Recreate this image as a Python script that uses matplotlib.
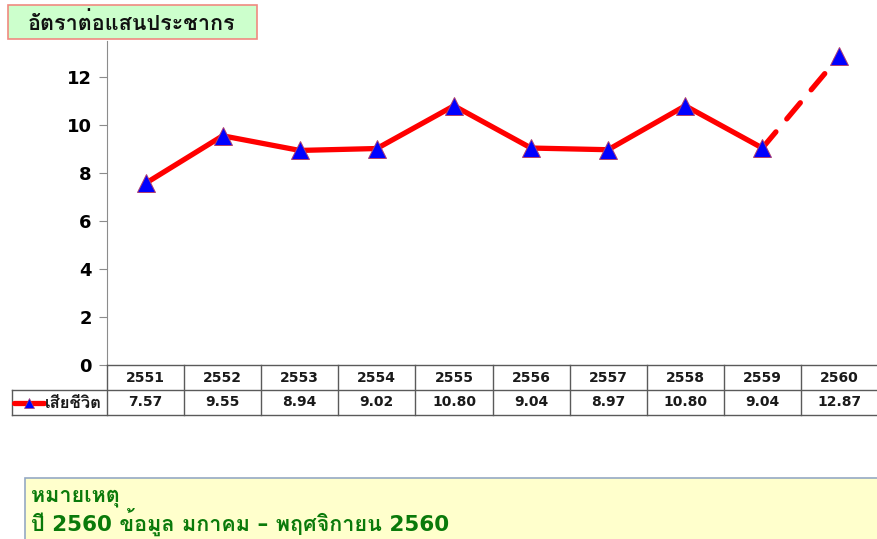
import matplotlib
matplotlib.use('Agg')
import matplotlib.pyplot as plt
from matplotlib import font_manager as fm, ft2font
from matplotlib.patches import Rectangle
import numpy as np

# data
years = ['2551', '2552', '2553', '2554', '2555', '2556', '2557', '2558', '2559', '2560']
rates = [7.57, 9.55, 8.94, 9.02, 10.80, 9.04, 8.97, 10.80, 9.04, 12.87]
series_name = 'เสียชีวิต'
y_title = 'อัตราต่อแสนประชากร'
note_lines = ['หมายเหตุ', 'ปี 2560 ข้อมูล มกาคม – พฤศจิกายน 2560']
yticks = [0, 2, 4, 6, 8, 10, 12]

# pick an installed font that has Thai glyphs (used as fallback after DejaVu)
thai = None
for f in fm.fontManager.ttflist:
    try:
        if ft2font.FT2Font(f.fname).get_char_index(ord('ก')):
            thai = f.name
            if f.weight in ('bold', 700):
                break
    except Exception:
        pass
plt.rcParams['font.family'] = ['DejaVu Sans'] + ([thai] if thai else [])

RED = '#ff0000'; BLUE = '#0000ff'; GRID = '#5a5a5a'

fig = plt.figure(figsize=(8.78, 5.39), dpi=100)
W, H = 878, 539
def box(x0, y0, x1, y1):
    return [x0 / W, 1 - y1 / H, (x1 - x0) / W, (y1 - y0) / H]

ax = fig.add_axes(box(107, 41, 878, 365))
x = np.arange(len(years))
ax.plot(x[:-1], rates[:-1], color=RED, lw=3.8, solid_capstyle='round', zorder=2)
ax.plot(x[-2:], rates[-2:], color=RED, lw=3.8, ls=(0, (4, 3.2)),
        dash_capstyle='round', zorder=2)
ax.plot(x, rates, ls='none', marker='^', ms=13, mfc=BLUE, mec='#b04070',
        mew=0.7, zorder=3)
ax.set_xlim(-0.5, len(years) - 0.5)
ax.set_ylim(0, 13.5)
ax.set_yticks(yticks)
ax.set_xticks([])
for s in ['top', 'right', 'bottom']:
    ax.spines[s].set_visible(False)
ax.spines['left'].set_color('#8c8c8c')
ax.tick_params(axis='y', direction='out', length=6, color='#8c8c8c',
               labelsize=13, pad=5)
for t in ax.get_yticklabels():
    t.set_fontweight('bold')

# data table under the plot
tax = fig.add_axes(box(12, 365, 878, 415))
left = -0.5 - 95 / 77.1
tax.set_xlim(left, len(years) - 0.5)
tax.set_ylim(0, 2)
tax.axis('off')
tax.plot([-0.5, len(years) - 0.5], [2, 2], color=GRID, lw=1, clip_on=False)
for yy in (1, 0):
    tax.plot([left, len(years) - 0.5], [yy, yy], color=GRID, lw=1, clip_on=False)
for k in range(len(years) + 1):
    tax.plot([k - 0.5, k - 0.5], [0, 2], color=GRID, lw=1, clip_on=False)
tax.plot([left, left], [0, 1], color=GRID, lw=1, clip_on=False)
for i, (yr, v) in enumerate(zip(years, rates)):
    tax.text(i, 1.5, yr, ha='center', va='center', fontsize=10, fontweight='bold',
             color='#1a1a1a')
    tax.text(i, 0.5, f'{v:.2f}', ha='center', va='center', fontsize=10,
             fontweight='bold', color='#1a1a1a')
# legend key in the table
kx0, kx1 = left + 0.02, left + 0.41
tax.plot([kx0, kx1], [0.5, 0.5], color=RED, lw=3.8, solid_capstyle='round')
tax.plot([(kx0 + kx1) / 2], [0.5], marker='^', ms=7, mfc=BLUE, mec='#b04070', mew=0.5)
tax.text(kx1 + 0.02, 0.5, series_name, ha='left', va='center', fontsize=12,
         fontweight='bold', color='#1a1a1a')

# title box
fig.patches.append(Rectangle((8 / W, 1 - 39 / H), 249 / W, 34 / H,
                             transform=fig.transFigure, facecolor='#ccffcc',
                             edgecolor='#f08a80', lw=1.2, zorder=5))
fig.text(132 / W, 1 - 23 / H, y_title, ha='center', va='center', fontsize=15.5,
         fontweight='bold', color='#111111', zorder=6)

# note box
fig.patches.append(Rectangle((25 / W, 1 - 560 / H), 880 / W, 82 / H,
                             transform=fig.transFigure, facecolor='#ffffcc',
                             edgecolor='#95a9c4', lw=1.2, zorder=5))
for j, line in enumerate(note_lines):
    fig.text(31 / W, 1 - (497 + 25 * j) / H, line, ha='left', va='center',
             fontsize=15.5, fontweight='bold', color='#0a7a0a', zorder=6)

fig.savefig('out.png', dpi=100)
